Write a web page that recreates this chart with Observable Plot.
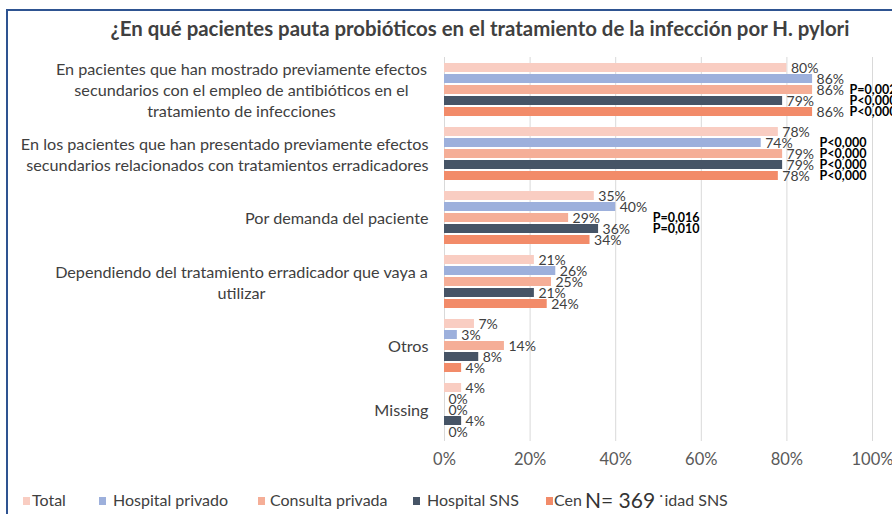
<!DOCTYPE html>
<html>
<head>
<meta charset="utf-8">
<script src="https://cdn.jsdelivr.net/npm/d3@7"></script>
<script src="https://cdn.jsdelivr.net/npm/@observablehq/plot@0.6"></script>
<style>
  html, body { margin: 0; padding: 0; background: #fff; }
  body { width: 892px; height: 514px; overflow: hidden; position: relative; font-family: Lato, "Open Sans", sans-serif; }
  #frame { position: absolute; left: 6px; top: 9px; right: -10px; bottom: -10px;
           border-top: 2px solid #2e5391; border-left: 2px solid #2e5391; }
  #title { position: absolute; top: 16px; left: 0; width: 892px; padding-left: 68px; box-sizing: border-box;
           text-align: center; font-weight: bold; font-size: 20.4px; color: #404040; white-space: nowrap; }
  #chart { position: absolute; top: 47px; left: 0; }
  #legend { position: absolute; top: 490px; left: 0; width: 892px; height: 24px; font-size: 16px; color: #404040; }
  .txt { position: absolute; top: 0px; white-space: nowrap; line-height: 20px; }
  .sw { position: absolute; top: 7px; width: 7px; height: 8px; }
  .nlabel { position: absolute; top: -3px; font-size: 21px; line-height: 26px; color: #333; background: #fff; }
</style>
</head>
<body>
<div id="frame"></div>
<div id="title"></div>
<div id="chart"></div>
<div id="legend"></div>
<script>
const titleText = "¿En qué pacientes pauta probióticos en el tratamiento de la infección por H. pylori";
const categories = [
  "En pacientes que han mostrado previamente efectos\nsecundarios con el empleo de antibióticos en el\ntratamiento de infecciones",
  "En los pacientes que han presentado previamente efectos\nsecundarios relacionados con tratamientos erradicadores",
  "Por demanda del paciente",
  "Dependiendo del tratamiento erradicador que vaya a\nutilizar",
  "Otros",
  "Missing"
];
const series = ["Total", "Hospital privado", "Consulta privada", "Hospital SNS", "Centro Especialidad SNS"];
const colors = ["#f9cdc2", "#9db0dc", "#f5ae97", "#465466", "#f28b69"];
const total           = [80, 78, 35, 21, 7, 4];
const hospitalPrivado = [86, 74, 40, 26, 3, 0];
const consultaPrivada = [86, 79, 29, 25, 14, 0];
const hospitalSNS     = [79, 79, 36, 21, 8, 4];
const centroSNS       = [86, 78, 34, 24, 4, 0];
const xTicks = [0, 20, 40, 60, 80, 100];
const pCategory = [0, 0, 0, 1, 1, 1, 1, 2, 2];
const pSeries = ["Consulta privada", "Hospital SNS", "Centro Especialidad SNS",
                 "Hospital privado", "Consulta privada", "Hospital SNS", "Centro Especialidad SNS",
                 "Consulta privada", "Hospital SNS"];
const pText = ["P=0,002", "P<0,000", "P<0,000", "P<0,000", "P<0,000", "P<0,000", "P<0,000", "P=0,016", "P=0,010"];
const legendShown = ["Total", "Hospital privado", "Consulta privada", "Hospital SNS", "Cen"];
const legendTail = "˙idad SNS";
const legendNote = "N= 369";

const valuesBySeries = [total, hospitalPrivado, consultaPrivada, hospitalSNS, centroSNS];
const rows = [];
categories.forEach((c, i) => series.forEach((s, j) => rows.push({category: c, series: s, value: valuesBySeries[j][i]})));
const groupMax = categories.map((c, i) => d3.max(valuesBySeries, v => v[i]));
const pRows = pText.map((t, k) => ({category: categories[pCategory[k]], series: pSeries[k], text: t, x: groupMax[pCategory[k]]}));

document.getElementById("title").textContent = titleText;

const font = "Lato, 'Open Sans', sans-serif";
const chart = Plot.plot({
  width: 892,
  height: 424,
  marginLeft: 444,
  marginRight: 20,
  marginTop: 10,
  marginBottom: 30,
  style: {fontFamily: font, background: "transparent", overflow: "visible"},
  x: {domain: [0, 100]},
  y: {domain: series, paddingInner: 0.2, paddingOuter: 0.267, axis: null},
  fy: {domain: categories, padding: 0},
  color: {domain: series, range: colors},
  marks: [
    Plot.gridX(xTicks, {stroke: "#d9d9d9", strokeOpacity: 1, strokeWidth: 1}),
    Plot.barX(rows, {x: "value", y: "series", fy: "category", fill: "series"}),
    Plot.text(rows, {x: "value", y: "series", fy: "category", text: d => d.value + "%",
      textAnchor: "start", dx: 4, dy: 0.5, fill: "#404040", fontSize: 14}),
    Plot.text(pRows, {x: "x", y: "series", fy: "category", text: "text",
      textAnchor: "start", dx: 37, fill: "#000", fontSize: 12.5, fontWeight: "bold"}),
    Plot.axisX({ticks: xTicks, tickSize: 0, tickPadding: 12, tickFormat: d => d + "%",
      fontSize: 16.5, fill: "#595959", color: "#595959"}),
    Plot.axisFy({ticks: [categories[0], categories[3]], anchor: "left", tickSize: 0, tickPadding: 0,
      textAnchor: "middle", dx: -203, fontSize: 16.2, lineHeight: 1.3, fill: "#404040", color: "#404040", label: null}),
    Plot.axisFy({ticks: [categories[1], categories[2], categories[4], categories[5]], anchor: "left", tickSize: 0, tickPadding: 16,
      fontSize: 16.2, lineHeight: 1.3, fill: "#404040", color: "#404040", label: null})
  ]
});
document.getElementById("chart").appendChild(chart);

const swatchLefts = [23, 99, 258, 413, 546];
const textLefts = [32, 113, 270, 427, 554];
const legend = document.getElementById("legend");
series.forEach((s, i) => {
  const sw = document.createElement("span");
  sw.className = "sw";
  sw.style.left = swatchLefts[i] + "px";
  sw.style.background = colors[i];
  legend.appendChild(sw);
  const t = document.createElement("span");
  t.className = "txt";
  t.style.left = textLefts[i] + "px";
  t.textContent = legendShown[i];
  legend.appendChild(t);
});
const tail = document.createElement("span");
tail.className = "txt";
tail.style.left = "658px";
tail.textContent = legendTail;
legend.appendChild(tail);
const note = document.createElement("span");
note.className = "nlabel";
note.style.left = "585px";
note.textContent = legendNote;
legend.appendChild(note);
</script>
</body>
</html>
